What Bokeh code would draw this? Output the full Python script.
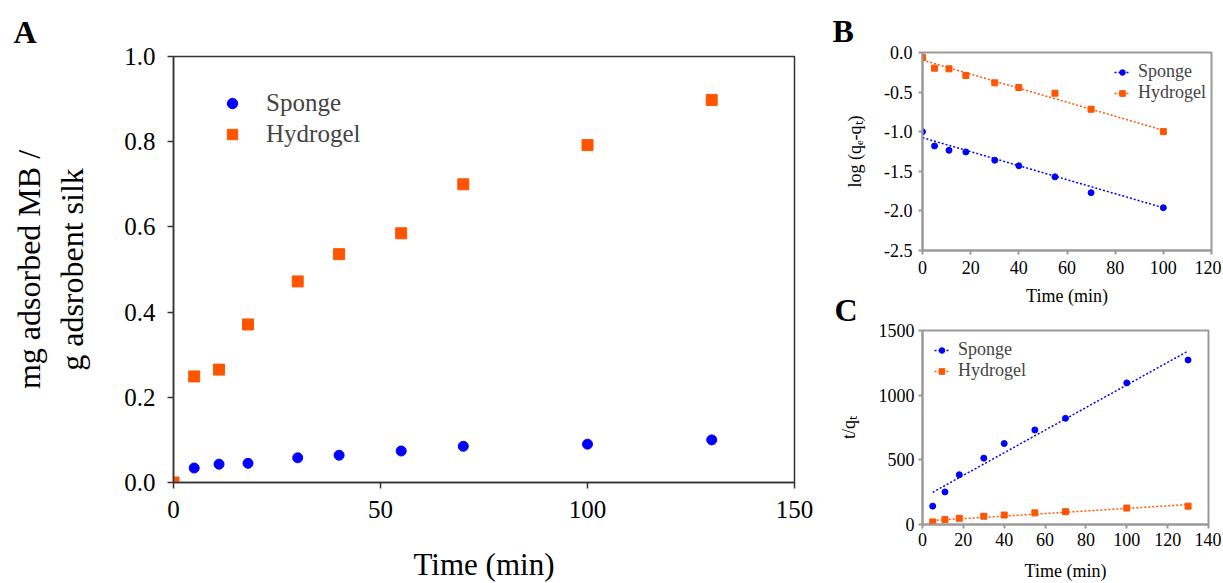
from bokeh.plotting import figure
from bokeh.layouts import row, column
from bokeh.models import (FixedTicker, NumeralTickFormatter, Range1d,
                          Legend, LegendItem, Title)
from bokeh.embed import file_html
from bokeh.resources import INLINE

# ---------------- data ----------------
# Panel A: adsorption vs time
time_a = [0, 5, 11, 18, 30, 40, 55, 70, 100, 130]
sponge_a = [0.0, 0.034, 0.043, 0.045, 0.058, 0.064, 0.074, 0.085, 0.090, 0.100]
hydrogel_a = [0.0, 0.249, 0.265, 0.371, 0.472, 0.536, 0.585, 0.700, 0.792, 0.898]
xticks_a = [0, 50, 100, 150]
yticks_a = [0.0, 0.2, 0.4, 0.6, 0.8, 1.0]

# Panel B: pseudo-first-order, log(qe-qt)
time_b = [0, 5, 11, 18, 30, 40, 55, 70, 100]
sponge_b = [-1.00, -1.18, -1.235, -1.256, -1.36, -1.43, -1.57, -1.77, -1.96]
hydrogel_b = [-0.063, -0.198, -0.206, -0.29, -0.383, -0.442, -0.514, -0.716, -0.999]
fit_x_b = [0, 100]
sponge_fit_b = [-1.075, -1.96]
hydrogel_fit_b = [-0.096, -0.982]
xticks_b = [0, 20, 40, 60, 80, 100, 120]
yticks_b = [-2.5, -2.0, -1.5, -1.0, -0.5, 0.0]

# Panel C: pseudo-second-order, t/qt
time_c = [5, 11, 18, 30, 40, 55, 70, 100, 130]
sponge_c = [142, 252, 385, 513, 626, 731, 821, 1095, 1272]
hydrogel_c = [20, 38, 48, 64, 73, 90, 99, 127, 142]
fit_x_c = [5, 130]
sponge_fit_c = [249, 1341]
hydrogel_fit_c = [31, 154]
xticks_c = [0, 20, 40, 60, 80, 100, 120, 140]
yticks_c = [0, 500, 1000, 1500]

BLUE = "#0000ff"
ORANGE = "#ff5500"
FONT = "Liberation Serif"


def style_axes(p, color, width, tick_out, tick_font, label_font,
               tick_standoff, x_label_standoff, y_label_standoff):
    p.xgrid.visible = False
    p.ygrid.visible = False
    p.outline_line_color = color
    p.outline_line_width = width
    p.background_fill_color = "white"
    for ax in list(p.xaxis) + list(p.yaxis):
        ax.axis_line_color = color
        ax.axis_line_width = width
        ax.major_tick_line_color = color
        ax.major_tick_line_width = width
        ax.major_tick_in = 0
        ax.major_tick_out = tick_out
        ax.minor_tick_line_color = None
        ax.major_label_text_font = FONT
        ax.major_label_text_font_size = tick_font
        ax.major_label_text_color = "black"
        ax.major_label_standoff = tick_standoff
        ax.axis_label_text_font = FONT
        ax.axis_label_text_font_size = label_font
        ax.axis_label_text_font_style = "normal"
        ax.axis_label_text_color = "black"
    p.xaxis.axis_label_standoff = x_label_standoff
    p.yaxis.axis_label_standoff = y_label_standoff


def panel_title(p, letter, offset, standoff):
    p.add_layout(Title(text=letter, align="left", offset=offset,
                       standoff=standoff, text_font=FONT,
                       text_font_size="32px", text_font_style="bold",
                       text_color="black"), "above")


# ---------------- Panel A ----------------
pa = figure(frame_width=621, frame_height=426,
            min_border_left=173, min_border_right=26,
            min_border_top=56, min_border_bottom=101,
            x_range=Range1d(0, 150), y_range=Range1d(0, 1),
            output_backend="svg", toolbar_location=None, title=None)
style_axes(pa, "#333333", 1.5, 6, "25px", "32px", 12, 26, 31)
pa.border_fill_color = "white"
pa.xaxis.ticker = FixedTicker(ticks=xticks_a)
pa.yaxis.ticker = FixedTicker(ticks=yticks_a)
pa.yaxis.formatter = NumeralTickFormatter(format="0.0")
pa.xaxis.axis_label = "Time (min)"
pa.xaxis.axis_label_text_font_size = "31px"
pa.yaxis.axis_label = "mg adsorbed MB /\ng adsrobent silk"

ra1 = pa.scatter(time_a, sponge_a, marker="circle", size=10,
                 fill_color=BLUE, line_color=BLUE)
ra2 = pa.scatter(time_a, hydrogel_a, marker="square", size=11,
                 fill_color=ORANGE, line_color=ORANGE)
leg_a = Legend(items=[LegendItem(label="Sponge", renderers=[ra1]),
                      LegendItem(label="Hydrogel", renderers=[ra2])],
               location=(46, 334), border_line_color=None,
               background_fill_alpha=0, label_text_font=FONT,
               label_text_font_size="25px", glyph_width=26, glyph_height=26,
               label_height=26, label_standoff=21, spacing=3, padding=5,
               margin=0)
pa.add_layout(leg_a)
panel_title(pa, "A", -160, 14)

# ---------------- Panel B ----------------
pb = figure(frame_width=289, frame_height=198,
            min_border_left=99, min_border_right=13,
            min_border_top=52, min_border_bottom=54,
            x_range=Range1d(0, 120), y_range=Range1d(-2.5, 0),
            output_backend="svg", toolbar_location=None, title=None)
style_axes(pb, "#999999", 2, 4, "18px", "18px", 6, 9, 16)
pb.border_fill_color = "white"
pb.xaxis.ticker = FixedTicker(ticks=xticks_b)
pb.yaxis.ticker = FixedTicker(ticks=yticks_b)
pb.yaxis.formatter = NumeralTickFormatter(format="0.0")
pb.xaxis.axis_label = "Time (min)"
pb.yaxis.axis_label = "log (qₑ-qₜ)"

lb1 = pb.line(fit_x_b, sponge_fit_b, line_color=BLUE, line_dash="2 2", line_width=1.5)
sb1 = pb.scatter(time_b, sponge_b, marker="circle", size=6,
                 fill_color=BLUE, line_color=BLUE)
lb2 = pb.line(fit_x_b, hydrogel_fit_b, line_color=ORANGE, line_dash="2 2", line_width=1.5)
sb2 = pb.scatter(time_b, hydrogel_b, marker="square", size=6,
                 fill_color=ORANGE, line_color=ORANGE)
leg_b = Legend(items=[LegendItem(label="Sponge", renderers=[lb1, sb1]),
                      LegendItem(label="Hydrogel", renderers=[lb2, sb2])],
               location=(192, 147), border_line_color=None,
               background_fill_alpha=0, label_text_font=FONT,
               label_text_font_size="18px", glyph_width=16, glyph_height=14,
               label_height=18, label_standoff=8, spacing=0, padding=2,
               margin=0)
pb.add_layout(leg_b)
panel_title(pb, "B", -90, 8)

# ---------------- Panel C ----------------
pc = figure(frame_width=286, frame_height=194,
            min_border_left=102, min_border_right=13,
            min_border_top=51, min_border_bottom=63,
            x_range=Range1d(0, 140), y_range=Range1d(0, 1500),
            output_backend="svg", toolbar_location=None, title=None,
            margin=(-29, 0, 0, 0))
style_axes(pc, "#999999", 2, 4, "18px", "18px", 4, 12, 17)
pc.border_fill_color = None
pc.xaxis.ticker = FixedTicker(ticks=xticks_c)
pc.yaxis.ticker = FixedTicker(ticks=yticks_c)
pc.xaxis.axis_label = "Time (min)"
pc.yaxis.axis_label = "t/qₜ"

lc1 = pc.line(fit_x_c, sponge_fit_c, line_color=BLUE, line_dash="2 2", line_width=1.5)
sc1 = pc.scatter(time_c, sponge_c, marker="circle", size=6,
                 fill_color=BLUE, line_color=BLUE)
lc2 = pc.line(fit_x_c, hydrogel_fit_c, line_color=ORANGE, line_dash="2 2", line_width=1.5)
sc2 = pc.scatter(time_c, hydrogel_c, marker="square", size=6,
                 fill_color=ORANGE, line_color=ORANGE)
leg_c = Legend(items=[LegendItem(label="Sponge", renderers=[lc1, sc1]),
                      LegendItem(label="Hydrogel", renderers=[lc2, sc2])],
               location=(12, 143), border_line_color=None,
               background_fill_alpha=0, label_text_font=FONT,
               label_text_font_size="18px", glyph_width=15, glyph_height=14,
               label_height=18, label_standoff=9, spacing=0, padding=2,
               margin=0)
pc.add_layout(leg_c)
panel_title(pc, "C", -88, 5)

layout = row(pa, column(pb, pc, spacing=0), spacing=0)
open("out.html", "w").write(file_html(layout, INLINE))
